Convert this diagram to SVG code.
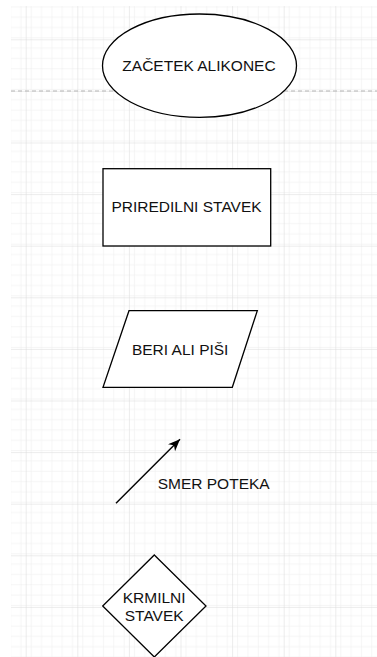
<svg xmlns="http://www.w3.org/2000/svg" width="377" height="657" viewBox="0 0 377 657">
  <defs>
    <pattern id="minor" patternUnits="userSpaceOnUse" x="-25.9" y="-12.3" width="10.32" height="10.32">
      <path d="M0,0 H10.32 M0,0 V10.32" fill="none" stroke="#ececec" stroke-width="1"/>
    </pattern>
    <pattern id="major" patternUnits="userSpaceOnUse" x="-25.9" y="-12.3" width="51.6" height="51.6">
      <rect width="51.6" height="51.6" fill="url(#minor)"/>
      <path d="M0,0 H51.6 M0,0 V51.6" fill="none" stroke="#dadada" stroke-width="1"/>
    </pattern>
    <marker id="arrow" markerUnits="userSpaceOnUse" markerWidth="14" markerHeight="12" refX="12" refY="5" orient="auto">
      <path d="M0,0 L12,5 L0,10 L3.5,5 Z" fill="#000"/>
    </marker>
    <style>
      .shape { fill: #ffffff; stroke: #000000; stroke-width: 1.3; }
      .lbl { font-family: "Liberation Sans", Arial, sans-serif; font-size: 15.5px; fill: #111111; text-anchor: middle; }
      .conn { stroke: #000000; stroke-width: 1.4; fill: none; }
    </style>
  </defs>
  <rect width="377" height="657" fill="#ffffff"/>
  <rect x="11" y="6" width="366" height="651" fill="url(#major)"/>
  <line x1="11" y1="91" x2="377" y2="91" stroke="#b5b5b5" stroke-width="1" stroke-dasharray="4 3"/>

  <g id="start-end">
    <ellipse class="shape" cx="199.5" cy="65.7" rx="97" ry="51.7"/>
    <text class="lbl" x="199" y="71.3">ZAČETEK ALIKONEC</text>
  </g>

  <g id="assignment">
    <rect class="shape" x="103" y="168.7" width="167.7" height="77.3"/>
    <text class="lbl" x="186.5" y="212.3">PRIREDILNI STAVEK</text>
  </g>

  <g id="io">
    <polygon class="shape" points="129,310.7 257.3,310.7 232.3,387.3 103,387.3"/>
    <text class="lbl" x="180.2" y="355">BERI ALI PIŠI</text>
  </g>

  <g id="connectors">
    <line class="conn" x1="116" y1="503.3" x2="180" y2="439.3" marker-end="url(#arrow)"/>
  </g>

  <g id="flow-label">
    <text class="lbl" x="157.7" y="489.3" style="text-anchor:start">SMER POTEKA</text>
  </g>

  <g id="decision">
    <polygon class="shape" points="154.3,555 206,606 154.3,657 102.7,606"/>
    <text class="lbl" x="154.2" y="602.7">KRMILNI</text>
    <text class="lbl" x="154.2" y="621.3">STAVEK</text>
  </g>
</svg>
